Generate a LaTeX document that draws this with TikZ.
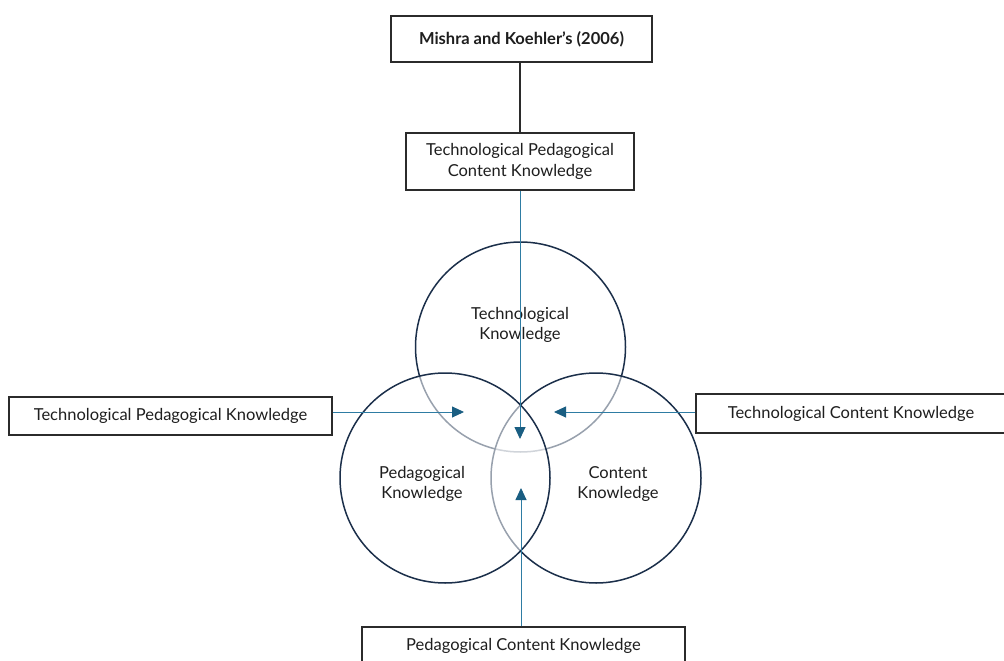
\documentclass[tikz,border=0pt]{standalone}
\usepackage{fontspec}
\setmainfont{Lato}
\usetikzlibrary{arrows.meta}
\definecolor{navy}{HTML}{1B2F4A}
\definecolor{teal}{HTML}{2E7CA3}
\definecolor{tealdark}{HTML}{1A5E82}
\definecolor{boxline}{HTML}{2B2B2B}
\definecolor{txt}{HTML}{1E1E1E}
\tikzset{
  box/.style={draw=boxline, line width=1.1pt, fill=white, align=center, font=\fontsize{16.5}{21}\selectfont, text=txt, inner sep=0pt},
  venn/.style={circle, draw=navy, line width=1.5pt, minimum size=210pt, inner sep=0pt, fill=white, fill opacity=0.55, draw opacity=1},
  lbl/.style={align=center, font=\fontsize{16.5}{20}\selectfont, text=txt},
  arr/.style={draw=teal, line width=0.9pt, -{Triangle[length=12pt,width=11pt,fill=tealdark,color=tealdark]}},
  link/.style={draw=boxline, line width=1.1pt}
}
\begin{document}
\begin{tikzpicture}[x=1pt,y=-1pt]
\useasboundingbox (0,0) rectangle (1004,661);
\fill[white] (0,0) rectangle (1004,661);
% boxes
\node[box, minimum width=261pt, minimum height=46pt] (mk) at (521.5,39) {\bfseries Mishra and Koehler’s (2006)};
\node[box, minimum width=228pt, minimum height=57pt] (tpack) at (520,161.5) {Technological Pedagogical\\Content Knowledge};
\node[box, minimum width=323pt, minimum height=38pt] (tpk) at (170.5,416) {Technological Pedagogical Knowledge};
\node[box, minimum width=310pt, minimum height=39pt] (tck) at (851,413.5) {Technological Content Knowledge};
\node[box, minimum width=323pt, minimum height=48pt] (pck) at (523.5,651) {};
\node[lbl] (pcktext) at (523.5,646) {Pedagogical Content Knowledge};
\draw[link] (mk.south -| tpack.north) -- (tpack.north);
% circles
\node[venn] (ctk) at (520.5,347) {};
\node[venn] (cck) at (596,478) {};
\node[venn] (cpk) at (445,478) {};
\node[lbl] (ttk) at (520,325) {Technological\\Knowledge};
\node[lbl] (tpkl) at (422,484) {Pedagogical\\Knowledge};
\node[lbl] (tckl) at (618,484) {Content\\Knowledge};
% arrows
\coordinate (tipT) at (520,439);
\coordinate (tipL) at (464,412);
\coordinate (tipR) at (554,412);
\coordinate (tipB) at (521,488);
\draw[arr] (tpack.south) -- (tipT);
\draw[arr] (tpk.east |- tipL) -- (tipL);
\draw[arr] (tck.west |- tipR) -- (tipR);
\draw[arr] (pck.north -| tipB) -- (tipB);
\end{tikzpicture}
\end{document}
